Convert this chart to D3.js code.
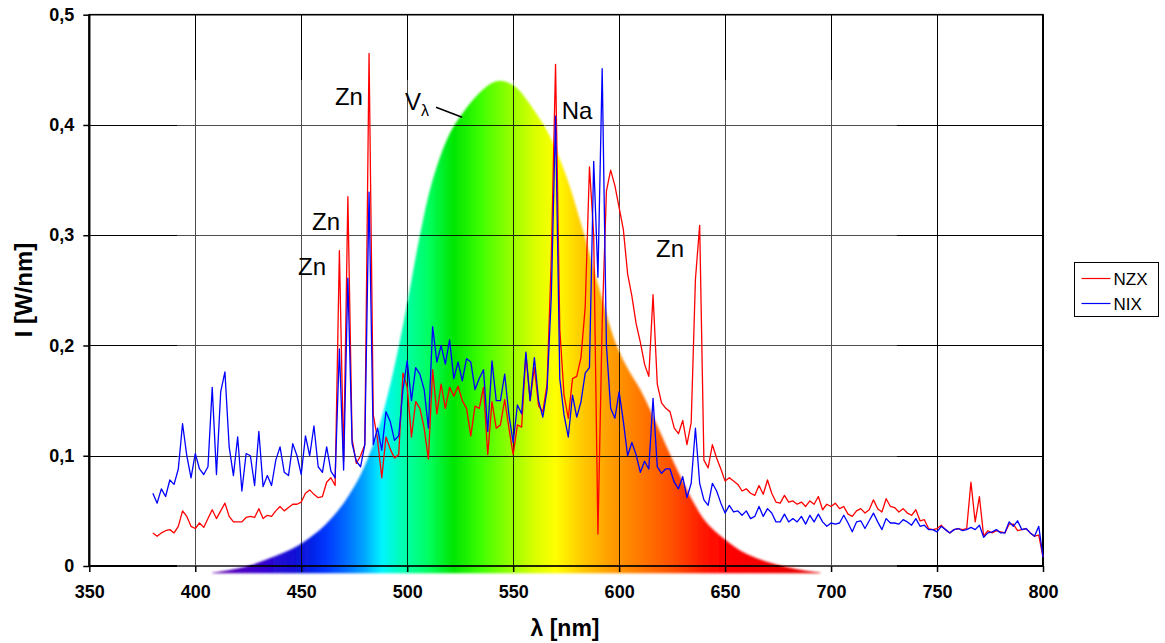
<!DOCTYPE html>
<html>
<head>
<meta charset="utf-8">
<script src="https://cdnjs.cloudflare.com/ajax/libs/d3/7.8.5/d3.min.js"></script>
<style>
  body { margin: 0; background: #fff; }
  svg { display: block; font-family: "Liberation Sans", Arial, sans-serif; }
</style>
</head>
<body>
<svg width="1165" height="643"></svg>
<script>
// spectra sampled every 2 nm from 380 nm
const waveStart = 380, waveStep = 2;

const nzx = [
  0.030,0.027,0.030,0.032,0.033,0.030,0.036,0.050,0.045,0.036,
  0.034,0.039,0.035,0.043,0.051,0.043,0.050,0.057,0.045,0.040,
  0.040,0.040,0.044,0.045,0.044,0.052,0.043,0.046,0.045,0.050,
  0.054,0.050,0.053,0.056,0.056,0.058,0.066,0.069,0.065,0.062,
  0.063,0.076,0.080,0.073,0.286,0.095,0.335,0.115,0.093,0.100,
  0.110,0.465,0.137,0.115,0.080,0.117,0.106,0.098,0.101,0.175,
  0.162,0.117,0.149,0.143,0.125,0.097,0.178,0.138,0.165,0.143,
  0.162,0.154,0.163,0.150,0.143,0.118,0.145,0.143,0.162,0.101,
  0.149,0.125,0.128,0.151,0.125,0.101,0.128,0.126,0.192,0.150,
  0.180,0.145,0.140,0.165,0.280,0.455,0.215,0.155,0.134,0.170,
  0.172,0.189,0.235,0.362,0.300,0.029,0.220,0.340,0.359,0.345,
  0.325,0.305,0.265,0.245,0.220,0.203,0.183,0.172,0.246,0.165,
  0.148,0.143,0.140,0.125,0.120,0.132,0.110,0.130,0.260,0.309,
  0.096,0.089,0.110,0.098,0.088,0.077,0.080,0.077,0.074,0.068,
  0.070,0.066,0.064,0.073,0.065,0.078,0.066,0.058,0.057,0.064,
  0.058,0.059,0.056,0.058,0.054,0.059,0.056,0.063,0.051,0.056,
  0.054,0.057,0.052,0.054,0.047,0.045,0.050,0.052,0.048,0.051,
  0.060,0.052,0.049,0.061,0.054,0.053,0.049,0.052,0.048,0.046,
  0.051,0.041,0.042,0.034,0.033,0.034,0.037,0.033,0.030,0.033,
  0.034,0.033,0.034,0.076,0.040,0.063,0.027,0.032,0.030,0.032,
  0.031,0.030,0.038,0.038,0.032,0.033,0.034,0.030,0.027,0.028,
  0.008
];

const nix = [
  0.066,0.057,0.070,0.063,0.078,0.074,0.088,0.129,0.100,0.080,
  0.102,0.088,0.083,0.090,0.162,0.083,0.158,0.176,0.108,0.082,
  0.117,0.068,0.102,0.100,0.073,0.122,0.072,0.082,0.073,0.096,
  0.108,0.085,0.082,0.111,0.100,0.083,0.118,0.100,0.127,0.090,
  0.085,0.108,0.086,0.080,0.197,0.087,0.261,0.111,0.095,0.090,
  0.110,0.339,0.110,0.125,0.105,0.140,0.131,0.114,0.118,0.160,
  0.186,0.150,0.180,0.174,0.160,0.125,0.217,0.185,0.200,0.183,
  0.205,0.170,0.185,0.168,0.188,0.185,0.160,0.170,0.178,0.122,
  0.186,0.150,0.150,0.174,0.137,0.112,0.146,0.138,0.194,0.150,
  0.189,0.150,0.135,0.160,0.245,0.408,0.170,0.137,0.117,0.155,
  0.135,0.149,0.175,0.180,0.367,0.262,0.451,0.200,0.143,0.134,
  0.158,0.131,0.100,0.112,0.101,0.085,0.095,0.088,0.152,0.090,
  0.084,0.088,0.088,0.076,0.070,0.081,0.062,0.075,0.125,0.075,
  0.060,0.055,0.075,0.068,0.057,0.048,0.055,0.049,0.050,0.046,
  0.050,0.043,0.045,0.054,0.045,0.052,0.048,0.040,0.040,0.047,
  0.040,0.043,0.040,0.045,0.038,0.046,0.040,0.047,0.040,0.036,
  0.039,0.038,0.039,0.046,0.039,0.031,0.040,0.041,0.034,0.041,
  0.048,0.040,0.033,0.043,0.039,0.039,0.038,0.042,0.040,0.037,
  0.043,0.036,0.037,0.033,0.033,0.031,0.036,0.033,0.030,0.033,
  0.034,0.032,0.033,0.035,0.033,0.037,0.026,0.030,0.031,0.033,
  0.030,0.030,0.040,0.036,0.041,0.033,0.034,0.030,0.027,0.036,
  0.008
];

// V(lambda) eye sensitivity curve, as scaled in the picture
const vlWave  = [408, 415, 425, 435, 445, 452, 460, 465, 470, 475, 480, 485, 490, 495, 500, 506, 512, 520, 527, 534,
                 540, 544, 548, 552, 560, 567, 575, 583, 591, 599, 605, 610, 616, 622, 629, 635, 641, 650, 660, 673,
                 684, 695];
const vlValue = [-0.006, -0.004, 0.0, 0.007, 0.015, 0.023, 0.035, 0.045, 0.057, 0.072, 0.091, 0.116, 0.149, 0.190,
                 0.238, 0.300, 0.350, 0.392, 0.413, 0.429, 0.438, 0.440, 0.438, 0.433, 0.413, 0.391, 0.354, 0.304,
                 0.249, 0.199, 0.176, 0.160, 0.136, 0.110, 0.081, 0.058, 0.040, 0.024, 0.011, 0.002, -0.003, -0.006];
const vlBase = -0.0066;

const specWave  = [405, 430, 450, 462, 472, 480, 488, 498, 510, 522, 535, 548, 560, 570, 582, 595, 610, 625, 640, 650, 700];
const specColor = ["#6a00a8", "#3a00d0", "#0a14d8", "#0038ff", "#0070ff", "#00a8ff", "#00f4ff", "#00ffb0", "#00ff60",
                   "#00e600", "#40ff00", "#90ff00", "#d8ff00", "#ffff00", "#ffcc00", "#ffa000", "#ff7800", "#ff5000",
                   "#ff1800", "#ff0000", "#e00000"];

const xTicks = [350, 400, 450, 500, 550, 600, 650, 700, 750, 800];
const yTicks = [0, 0.1, 0.2, 0.3, 0.4, 0.5];

const seriesNames  = ["NZX", "NIX"];
const seriesColors = ["#ff0000", "#0000ff"];

const notes = [
  { text: "Zn", wave: 465.9, value: 0.418 },
  { text: "Zn", wave: 455.1, value: 0.305 },
  { text: "Zn", wave: 448.5, value: 0.264 },
  { text: "Na", wave: 572.9, value: 0.405 },
  { text: "Zn", wave: 617.4, value: 0.280 }
];

const svg = d3.select("svg");

const x = d3.scaleLinear().domain([350, 800]).range([89.3, 1043]);
const y = d3.scaleLinear().domain([0, 0.5]).range([566, 14.7]);
const px = v => Math.round(x(v)) + 0.5;
const py = v => Math.round(y(v)) + 0.5;

const defs = svg.append("defs");

const grad = defs.append("linearGradient")
  .attr("id", "spectrum")
  .attr("gradientUnits", "userSpaceOnUse")
  .attr("x1", x(specWave[0])).attr("x2", x(specWave[specWave.length - 1]))
  .attr("y1", 0).attr("y2", 0);
const span = specWave[specWave.length - 1] - specWave[0];
grad.selectAll("stop")
  .data(specWave)
  .enter()
  .append("stop")
  .attr("offset", d => (d - specWave[0]) / span)
  .attr("stop-color", (d, i) => specColor[i]);

defs.append("filter").attr("id", "soft")
  .append("feGaussianBlur").attr("stdDeviation", 1.3);

const vlPoints = vlWave.map((w, i) => [w, vlValue[i]]);
const vlArea = d3.area()
  .x(d => x(d[0]))
  .y0(y(vlBase))
  .y1(d => y(d[1]))
  .curve(d3.curveCatmullRom);

defs.append("clipPath").attr("id", "vlclip")
  .append("path").attr("d", vlArea(vlPoints));

// grid + frame
function drawGrid(g, w) {
  g.selectAll("line.v")
    .data(xTicks.slice(1, -1))
    .enter().append("line")
    .attr("class", "v")
    .attr("x1", d => px(d)).attr("x2", d => px(d))
    .attr("y1", y(0.5)).attr("y2", y(0))
    .attr("stroke", "#000").attr("stroke-width", w);
  g.selectAll("line.h")
    .data(yTicks.slice(1, -1))
    .enter().append("line")
    .attr("class", "h")
    .attr("x1", x(350)).attr("x2", x(800))
    .attr("y1", d => py(d)).attr("y2", d => py(d))
    .attr("stroke", "#000").attr("stroke-width", w);
}

const grid = svg.append("g");
drawGrid(grid, 1);
grid.append("rect")
  .attr("x", x(350)).attr("y", y(0.5))
  .attr("width", x(800) - x(350)).attr("height", y(0) - y(0.5))
  .attr("fill", "none").attr("stroke", "#000").attr("stroke-width", 1.6);
grid.append("line")
  .attr("x1", x(350)).attr("x2", x(800))
  .attr("y1", y(0)).attr("y2", y(0))
  .attr("stroke", "#000").attr("stroke-width", 2.2);
grid.append("line")
  .attr("x1", x(350)).attr("x2", x(350))
  .attr("y1", y(0.5)).attr("y2", y(0))
  .attr("stroke", "#000").attr("stroke-width", 2.2);
grid.append("line")
  .attr("x1", x(800)).attr("x2", x(800))
  .attr("y1", y(0.5)).attr("y2", y(0))
  .attr("stroke", "#000").attr("stroke-width", 2);

// pasted picture leaves the grid a little paler in its box
svg.append("rect")
  .attr("x", 177).attr("y", 80)
  .attr("width", 720).attr("height", 496)
  .attr("fill", "#fff").attr("opacity", 0.3);

svg.append("path")
  .attr("d", vlArea(vlPoints))
  .attr("fill", "url(#spectrum)")
  .attr("filter", "url(#soft)");

const gridOver = svg.append("g")
  .attr("clip-path", "url(#vlclip)")
  .attr("opacity", 0.85);
drawGrid(gridOver, 1);
gridOver.append("line")
  .attr("x1", x(350)).attr("x2", x(800))
  .attr("y1", y(0)).attr("y2", y(0))
  .attr("stroke", "#000").attr("stroke-width", 2.2);

// spectra
const line = d3.line()
  .x((d, i) => x(waveStart + i * waveStep))
  .y(d => y(d));

[nzx, nix].forEach((s, k) => {
  svg.append("path")
    .datum(s)
    .attr("d", line)
    .attr("fill", "none")
    .attr("stroke", seriesColors[k])
    .attr("stroke-width", 1.3)
    .attr("stroke-linejoin", "round");
});

// axes
const fmt = d => d === 0 ? "0" : d.toFixed(1).replace(".", ",");

const yAxis = svg.append("g")
  .attr("transform", `translate(${x(350)},0)`)
  .call(d3.axisLeft(y).tickValues(yTicks).tickFormat(fmt).tickSize(6).tickSizeOuter(0).tickPadding(9));
const xAxis = svg.append("g")
  .attr("transform", `translate(0,${y(0)})`)
  .call(d3.axisBottom(x).tickValues(xTicks).tickSize(6).tickSizeOuter(0).tickPadding(13));

[yAxis, xAxis].forEach(a => {
  a.select(".domain").remove();
  a.selectAll("line").attr("stroke", "#000").attr("stroke-width", 1.5);
  a.selectAll("text")
    .attr("fill", "#000")
    .style("font-family", "'Liberation Sans', Arial, sans-serif")
    .style("font-size", "18px")
    .style("font-weight", "bold");
});

svg.append("text")
  .attr("x", 565).attr("y", 636)
  .attr("text-anchor", "middle")
  .style("font-size", "23px").style("font-weight", "bold")
  .text("λ [nm]");

svg.append("text")
  .attr("transform", "translate(32,290) rotate(-90)")
  .attr("text-anchor", "middle")
  .style("font-size", "24px").style("font-weight", "bold")
  .text("I [W/nm]");

// line labels
svg.selectAll("text.note")
  .data(notes)
  .enter().append("text")
  .attr("class", "note")
  .attr("x", d => x(d.wave)).attr("y", d => y(d.value))
  .style("font-size", "24px")
  .text(d => d.text);

const vl = svg.append("text")
  .attr("x", x(499)).attr("y", y(0.4134))
  .style("font-size", "24px");
vl.append("tspan").text("V");
vl.append("tspan").attr("dy", 6).style("font-size", "16px").text("λ");

svg.append("line")
  .attr("x1", x(513.6)).attr("y1", y(0.416))
  .attr("x2", x(525.9)).attr("y2", y(0.407))
  .attr("stroke", "#000").attr("stroke-width", 1.5);

// legend
const legend = svg.append("g").attr("transform", "translate(1074.5,262.5)");
legend.append("rect")
  .attr("width", 84).attr("height", 54)
  .attr("fill", "#fff").attr("stroke", "#000").attr("stroke-width", 1);
seriesNames.forEach((name, i) => {
  legend.append("line")
    .attr("x1", 7).attr("x2", 36)
    .attr("y1", 16 + i * 25).attr("y2", 16 + i * 25)
    .attr("stroke", seriesColors[i]).attr("stroke-width", 1.2);
  legend.append("text")
    .attr("x", 39).attr("y", 22 + i * 25)
    .style("font-size", "17px")
    .text(name);
});
</script>
</body>
</html>
